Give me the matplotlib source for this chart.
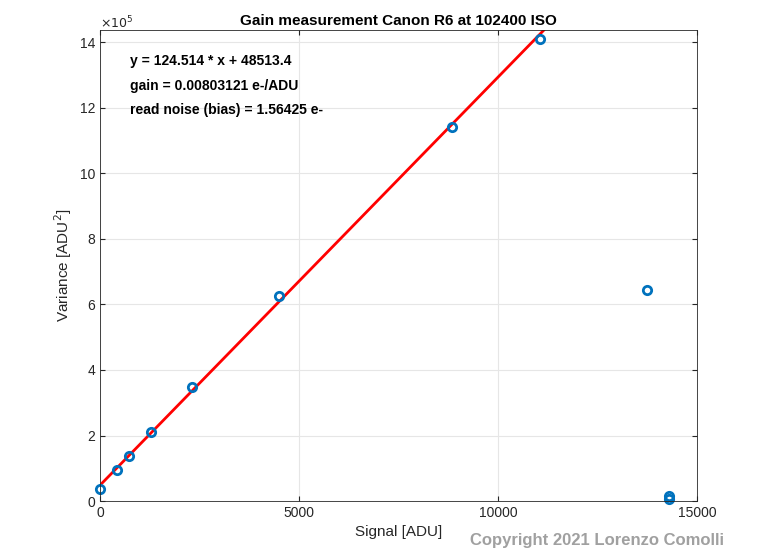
import numpy as np
import matplotlib.pyplot as plt

plt.rcParams['font.family'] = ['Liberation Sans', 'DejaVu Sans']

# measured points (signal ADU, variance ADU^2)
signal = [0, 420, 720, 1270, 2300, 4500, 8850, 11050, 13750, 14300, 14300]
variance = [0.37e5, 0.95e5, 1.37e5, 2.1e5, 3.47e5, 6.25e5, 11.42e5, 14.1e5, 6.45e5, 0.15e5, 0.05e5]

slope = 124.514
offset = 48513.4
fit_x = [0, 11150]

fig = plt.figure(figsize=(7.7, 5.5), dpi=100)
ax = fig.add_axes([0.13, 0.089, 0.775, 0.856])

fx = np.array(fit_x)
ax.plot(fx, slope * fx + offset, color='red', linewidth=2)
ax.plot(signal, variance, 'o', markerfacecolor='none', markeredgecolor='#0072BD',
        markeredgewidth=2, markersize=6, clip_on=False)

ax.set_xlim(0, 15000)
ax.set_ylim(0, 14.37e5)
ax.set_xticks([0, 5000, 10000, 15000])
ax.set_yticks(np.arange(0, 15, 2) * 1e5)
ax.set_yticklabels([str(i) for i in range(0, 15, 2)])
ax.text(0.0, 1.005, r'$\times 10^5$', transform=ax.transAxes, fontsize=9, color='#262626')
ax.grid(True, color='#e6e6e6', linewidth=0.8)
ax.tick_params(direction='in', top=True, right=True, labelsize=10, colors='#262626')
for s in ax.spines.values():
    s.set_color('#262626')
    s.set_linewidth(0.6)

ax.set_xlabel('Signal [ADU]', fontsize=11, color='#262626')
ax.set_ylabel(r'Variance [ADU$^2$]', fontsize=11, color='#262626')
ax.set_title('Gain measurement Canon R6 at 102400 ISO', fontsize=11, fontweight='bold', pad=4)

ax.text(750, 13.3e5, 'y = 124.514 * x + 48513.4', fontsize=10, fontweight='bold')
ax.text(750, 12.55e5, 'gain = 0.00803121 e-/ADU', fontsize=10, fontweight='bold')
ax.text(750, 11.8e5, 'read noise (bias) = 1.56425 e-', fontsize=10, fontweight='bold')

fig.text(0.61, 0.01, 'Copyright 2021 Lorenzo Comolli', fontsize=12, fontweight='bold',
         color='#888888', alpha=0.8)

fig.savefig('out.png', dpi=100)
